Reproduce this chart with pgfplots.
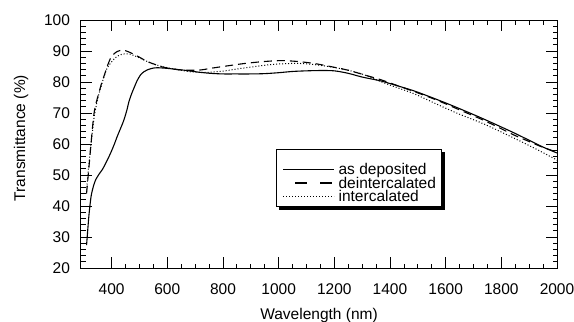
\documentclass[border=0pt]{standalone}
\usepackage{fontspec}
\setmainfont{Liberation Sans}
\usepackage{pgfplots}
\pgfplotsset{compat=1.18}
\newcommand{\ff}{\fontsize{15.5bp}{18.5bp}\selectfont}
\begin{document}
\begin{tikzpicture}[font=\ff]
\path[use as bounding box] (-81bp,-54bp) rectangle (493bp,268bp);
\begin{axis}[
  at={(0,0)}, anchor=south west,
  scale only axis, width=476bp, height=248bp,
  xmin=290, xmax=2000, ymin=20, ymax=100,
  xtick={400,600,...,2000}, ytick={20,30,...,100},
  minor x tick num=3, minor y tick num=4,
  tick align=inside,
  major tick length=11bp, minor tick length=4.5bp,
  axis line style={line width=1bp},
  every tick/.style={black, line width=0.8bp},
  /pgf/number format/assume math mode=true,
  /pgf/number format/1000 sep={},
  tick label style={font=\ff},
  label style={font=\ff},
  xticklabel style={yshift=-12bp},
  yticklabel style={xshift=-7.5bp},
  xlabel={Wavelength (nm)}, ylabel={Transmittance (\%)},
  xlabel style={at={(axis description cs:0.5,0)}, anchor=base, yshift=-51bp},
  ylabel style={at={(axis description cs:-0.1176,0.524)}, anchor=base},
  legend style={at={(rel axis cs:0.4097,0.4798)}, anchor=north west,
    name=leg, font=\ff,
    draw=black, line width=1bp, fill=white,
    inner xsep=6bp, inner ysep=4bp, column sep=4bp, row sep=0bp,
    cells={anchor=base west},
    nodes={inner sep=0bp}},
  legend image code/.code={\draw[#1] (0bp,5bp) -- (51bp,5bp);},
]
\addplot[black, line width=1.1bp, smooth] coordinates {
(310,27.4) (314,32) (318,36.5) (322,40) (327,43.5) (335,46.5) (343,48.5) (355,50.3) (367,51.8) (380,54) (396,57) (410,60) (420,62.4) (432,65) (444,67.7) (455,71) (462,73.6) (471,76) (480,78) (492,80.5) (504,82.3) (516,83.3) (528,83.9) (545,84.4) (564,84.6) (600,84.4) (640,84) (671,83.7) (710,83.2) (755,82.8) (800,82.6) (839,82.6) (900,82.6) (950,82.7) (1000,83) (1050,83.4) (1100,83.6) (1150,83.7) (1200,83.6) (1250,82.8) (1300,81.6) (1365,80.4) (1400,79.5) (1484,77.2) (1550,75) (1604,73.1) (1650,71.4) (1723,68.6) (1780,66.3) (1843,63.7) (1900,61.2) (1950,59) (2000,57.1)
};
\addlegendentry{\rule[-2bp]{0pt}{23bp}as deposited}
\addplot[black, line width=1.1bp, smooth, dash pattern=on 8bp off 5bp,
  legend image post style={dash pattern=on 12bp off 13bp, dash phase=13bp}] coordinates {
(310,44) (315,49) (320,54) (325,59) (331,65) (337,70) (345,73.5) (354,76.4) (362,79) (372,81.7) (384,85) (396,87.6) (410,89.2) (422,89.9) (432,90.2) (450,90.1) (474,89.2) (500,88) (528,86.6) (552,85.8) (576,85) (606,84.4) (636,84) (670,83.8) (707,83.8) (730,84) (755,84.4) (800,85) (839,85.5) (880,86) (934,86.5) (980,86.8) (1018,86.9) (1070,86.6) (1126,86) (1180,85.1) (1245,83.9) (1300,82.5) (1365,80.8) (1400,79.7) (1484,77) (1550,74.8) (1604,72.8) (1650,71) (1723,68.2) (1780,65.8) (1843,63) (1900,60.8) (1950,58.9) (2000,57.4)
};
\addlegendentry{\rule[-2bp]{0pt}{14bp}deintercalated}
\addplot[black, line width=1bp, smooth, dash pattern=on 1bp off 2bp] coordinates {
(310,45) (315,50) (320,55) (325,59.5) (331,64) (337,68.5) (345,72.5) (354,76) (362,78.5) (372,81.5) (384,84.5) (400,86.5) (416,88) (432,88.8) (450,89.1) (465,89) (490,88.2) (516,87.1) (550,85.8) (600,84.6) (650,83.8) (683,83.3) (740,83.1) (800,83.5) (850,84.2) (908,84.9) (960,85.5) (1000,85.8) (1066,86) (1120,85.7) (1185,84.9) (1250,83.8) (1305,82.4) (1365,80.2) (1400,79) (1484,76.3) (1550,73.6) (1604,71.4) (1650,69.6) (1723,67) (1780,64.7) (1843,62) (1900,59.5) (1950,57.2) (2000,54.8)
};
\addlegendentry{\rule[-2bp]{0pt}{14bp}intercalated}
\end{axis}
\fill[black] ([xshift=3bp]leg.south west) rectangle ([xshift=3bp,yshift=-3bp]leg.south east);
\fill[black] ([yshift=-3bp]leg.north east) rectangle ([xshift=3bp]leg.south east);
\end{tikzpicture}
\end{document}
